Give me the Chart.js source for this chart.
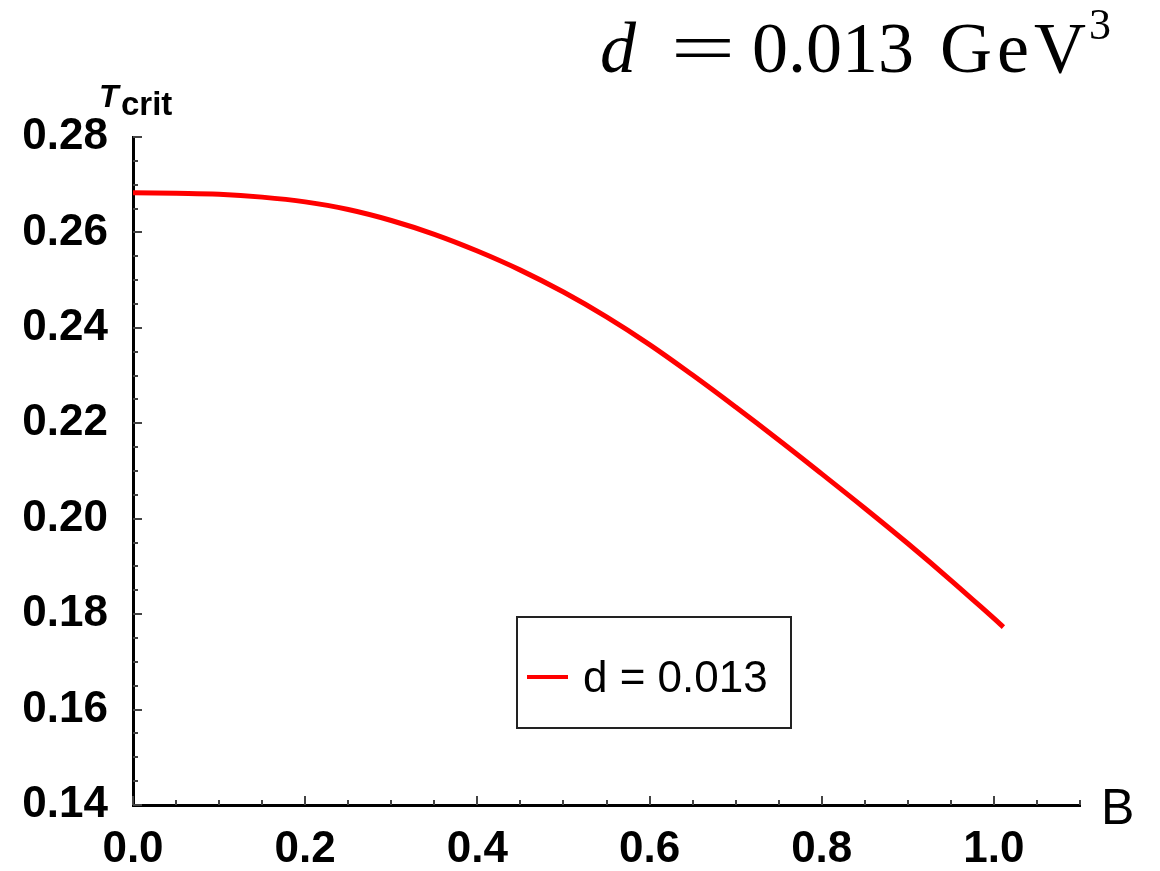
<!DOCTYPE html>
<html>
<head>
<meta charset="utf-8">
<script src="https://cdn.jsdelivr.net/npm/chart.js@4"></script>
<style>
  body { margin: 0; background: #fff; }
  #wrap { position: relative; width: 1160px; height: 871px; }
  .lbl { position: absolute; line-height: 1; white-space: nowrap; color: #000; }
  #title { left: 600px; top: 12px; font-family: "Liberation Serif", "Times New Roman", serif; font-size: 72px; }
  #title .eq { display: inline-block; width: 66px; margin: 0 16px 0 34px; text-align: center; transform: scaleX(1.6); }
  #title .unit { margin-left: 26px; letter-spacing: 5px; }
  #title sup { font-size: 44px; vertical-align: 0; position: relative; top: -33px; margin-left: -2px; }
  #legendBox { position: absolute; left: 516px; top: 616px; width: 272px; height: 109px; border: 2px solid #222; }
</style>
</head>
<body>
<div id="wrap">
  <canvas id="myChart"></canvas>
  <div class="lbl" id="title"><i>d</i><span class="eq">=</span>0.013<span class="unit">GeV</span><sup>3</sup></div>
  <div class="lbl" style="left:99px; top:78px; font: italic bold 32px 'Liberation Sans', Arial, sans-serif;">T</div>
  <div class="lbl" style="left:121px; top:85px; font: bold 33px 'Liberation Sans', Arial, sans-serif;">crit</div>
  <div class="lbl" style="left:1101px; top:778px; font: 50px 'Liberation Sans', Arial, sans-serif;">B</div>
  <div id="legendBox"></div>
  <div id="legendSwatch" style="position:absolute; left:527px; top:675px; width:41px; height:4px;"></div>
  <div class="lbl" id="legendText" style="left:583px; top:652px; font: 44px 'Liberation Sans', Arial, sans-serif;"></div>
</div>
<script>
var ctx = document.getElementById('myChart');

// B values and critical temperature
const bValues = [0, 0.05, 0.1, 0.15, 0.2, 0.25, 0.3, 0.35, 0.4, 0.45, 0.5, 0.55,
                 0.6, 0.65, 0.7, 0.75, 0.8, 0.85, 0.9, 0.95, 1.0, 1.011];
const tcritValues = [0.2683, 0.2682, 0.2680, 0.2674, 0.2664, 0.2648, 0.2625, 0.2596, 0.2561, 0.2521, 0.2475, 0.2423,
                     0.2365, 0.2301, 0.2234, 0.2165, 0.2094, 0.2022, 0.1948, 0.1871, 0.1791, 0.1773];
const seriesLabel = 'd = 0.013';
const yTicks = { min: 0.14, max: 0.28, major: 0.02, minor: 0.005 };
const xTicks = { min: 0, max: 1.1, major: 0.2, minor: 0.05 };

const points = bValues.map(function (b, i) { return { x: b, y: tcritValues[i] }; });
const lineColor = '#ff0000';

document.getElementById('legendSwatch').style.background = lineColor;
document.getElementById('legendText').textContent = seriesLabel;

// tick marks pointing into the plot, like the original
const innerTicks = {
  id: 'innerTicks',
  afterDraw: function (chart) {
    const c = chart.ctx;
    const xs = chart.scales.x, ys = chart.scales.y;
    const area = chart.chartArea;
    c.save();
    c.strokeStyle = '#444';
    c.lineWidth = 2;
    let n = Math.round((xTicks.max - xTicks.min) / xTicks.minor);
    let every = Math.round(xTicks.major / xTicks.minor);
    for (let i = 0; i <= n; i++) {
      const px = Math.round(xs.getPixelForValue(xTicks.min + i * xTicks.minor));
      const len = (i % every === 0) ? 9 : 5;
      c.beginPath();
      c.moveTo(px, area.bottom);
      c.lineTo(px, area.bottom - len);
      c.stroke();
    }
    n = Math.round((yTicks.max - yTicks.min) / yTicks.minor);
    every = Math.round(yTicks.major / yTicks.minor);
    for (let i = 0; i <= n; i++) {
      const py = Math.round(ys.getPixelForValue(yTicks.min + i * yTicks.minor));
      const len = (i % every === 0) ? 9 : 5;
      c.beginPath();
      c.moveTo(area.left, py);
      c.lineTo(area.left + len, py);
      c.stroke();
    }
    c.restore();
  }
};

var myChart = new Chart(ctx, {
  type: 'line',
  data: {
    datasets: [
      {
        label: seriesLabel,
        data: points,
        borderColor: lineColor,
        backgroundColor: lineColor,
        borderWidth: 5,
        fill: false,
        tension: 0.4,
        pointRadius: 0
      }
    ]
  },
  options: {
    responsive: true,
    maintainAspectRatio: false,
    animation: false,
    layout: { padding: { top: 137, right: 80, left: 0, bottom: 0 } },
    plugins: {
      legend: { display: false },
      tooltip: { enabled: false }
    },
    scales: {
      x: {
        type: 'linear',
        min: xTicks.min,
        max: xTicks.max,
        afterFit: function (scale) { scale.height = 66; },
        border: { display: true, color: '#000', width: 3 },
        grid: { display: true, drawOnChartArea: false, drawTicks: false },
        ticks: {
          stepSize: xTicks.major,
          includeBounds: false,
          padding: 18,
          color: '#000',
          font: { family: "'Liberation Sans', Arial, sans-serif", size: 44, weight: 'bold' },
          callback: function (v) { return v.toFixed(1); }
        }
      },
      y: {
        min: yTicks.min,
        max: yTicks.max,
        afterFit: function (scale) { scale.width = 133; },
        border: { display: true, color: '#000', width: 3 },
        grid: { display: true, drawOnChartArea: false, drawTicks: false },
        ticks: {
          stepSize: yTicks.major,
          padding: 25,
          color: '#000',
          font: { family: "'Liberation Sans', Arial, sans-serif", size: 44, weight: 'bold' },
          callback: function (v) { return v.toFixed(2); }
        }
      }
    }
  },
  plugins: [innerTicks]
});
</script>
</body>
</html>
